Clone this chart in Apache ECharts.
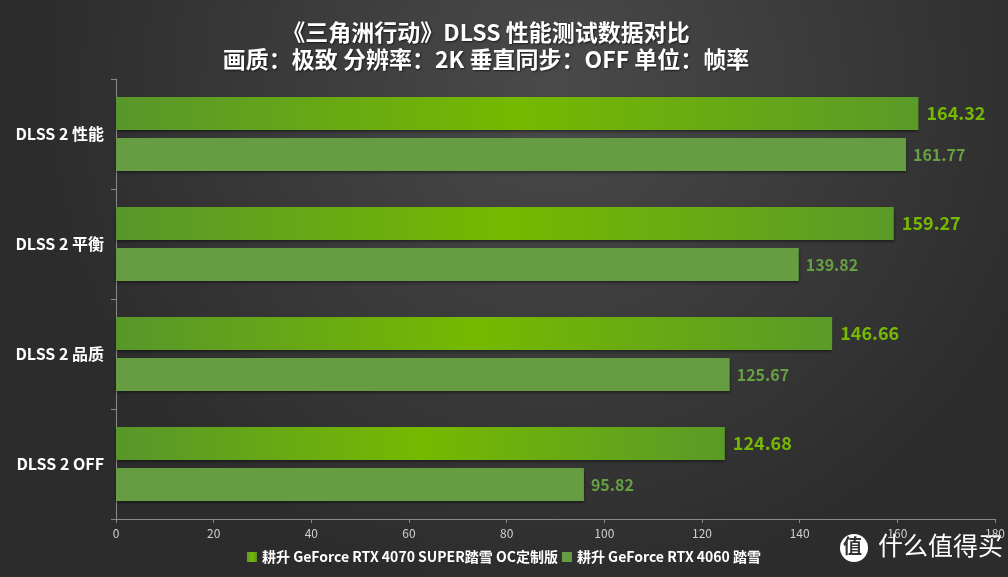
<!DOCTYPE html>
<html><head><meta charset="utf-8">
<script src="https://cdn.jsdelivr.net/npm/echarts@6/dist/echarts.min.js"></script>
<style>html,body{margin:0;padding:0;background:#333;}#c{width:1008px;height:577px;}</style>
</head><body><div id="c"></div>
<script>
const categories = ['DLSS 2 性能', 'DLSS 2 平衡', 'DLSS 2 品质', 'DLSS 2 OFF'];
const seriesNames = ['耕升 GeForce RTX 4070 SUPER踏雪 OC定制版', '耕升 GeForce RTX 4060 踏雪'];
const valuesA = [164.32, 159.27, 146.66, 124.68];
const valuesB = [161.77, 139.82, 125.67, 95.82];
const xTicks = { min: 0, max: 180, interval: 20 };
const titleLines = ['《三角洲行动》DLSS 性能测试数据对比', '画质：极致 分辨率：2K 垂直同步：OFF 单位：帧率'];

const FF = '"Noto Sans CJK SC", "Noto Sans", sans-serif';
const chart = echarts.init(document.getElementById('c'));
const gradA = new echarts.graphic.LinearGradient(0, 0, 1, 0, [
  { offset: 0, color: '#58962b' },
  { offset: 0.5, color: '#76b900' },
  { offset: 1, color: '#5a9a28' }
]);
chart.setOption({
  backgroundColor: new echarts.graphic.RadialGradient(0.55, 0.15, 0.9, [
    { offset: 0, color: '#4a4a4a' },
    { offset: 1, color: '#2c2c2c' }
  ]),
  title: {
    text: titleLines.join('\n'),
    left: 481, top: 14, textAlign: 'center',
    textStyle: { color: '#ffffff', fontSize: 23, fontWeight: 'bold', fontFamily: FF, lineHeight: 27,
      textShadowColor: 'rgba(0,0,0,0.6)', textShadowBlur: 2, textShadowOffsetX: 1, textShadowOffsetY: 1 }
  },
  legend: {
    bottom: 8, left: 'center', itemWidth: 10, itemHeight: 10, itemGap: 4, icon: 'rect',
    textStyle: { color: '#ffffff', fontSize: 14, fontWeight: 'bold', fontFamily: FF }
  },
  grid: { left: 116, right: 13, top: 79, bottom: 58 },
  xAxis: {
    type: 'value', min: xTicks.min, max: xTicks.max, interval: xTicks.interval,
    axisLine: { show: true, lineStyle: { color: '#8a8a8a' } },
    axisTick: { show: true, length: 4, lineStyle: { color: '#8a8a8a' } },
    axisLabel: { color: '#cfcfcf', fontSize: 12, fontFamily: FF, margin: 8 },
    splitLine: { show: false }
  },
  yAxis: {
    type: 'category', data: categories, inverse: true,
    axisLine: { show: true, lineStyle: { color: '#8a8a8a' } },
    axisTick: { show: true, length: 5, lineStyle: { color: '#8a8a8a' } },
    axisLabel: { color: '#ffffff', fontSize: 16, fontWeight: 'bold', fontFamily: FF, margin: 12 }
  },
  series: [
    {
      name: seriesNames[0], type: 'bar', data: valuesA, barWidth: 33, barGap: '24%',
      itemStyle: { color: gradA, shadowColor: 'rgba(0,0,0,0.5)', shadowBlur: 3, shadowOffsetY: 2 },
      label: { show: true, position: 'right', distance: 8, color: '#76b900', fontSize: 18, fontWeight: 'bold', fontFamily: FF,
        formatter: p => p.value.toFixed(2) }
    },
    {
      name: seriesNames[1], type: 'bar', data: valuesB, barWidth: 33,
      itemStyle: { color: '#669c42', shadowColor: 'rgba(0,0,0,0.5)', shadowBlur: 3, shadowOffsetY: 2 },
      label: { show: true, position: 'right', distance: 7, color: '#67a043', fontSize: 16, fontWeight: 'bold', fontFamily: FF,
        formatter: p => p.value.toFixed(2) }
    }
  ],
  color: ['#76b900', '#669c42'],
  graphic: [
    { type: 'circle', shape: { cx: 854, cy: 548, r: 14 }, style: { fill: '#ffffff' } },
    { type: 'text', left: 843, top: 536, style: { text: '值', fill: '#333', font: 'bold 19px ' + FF } },
    { type: 'text', left: 878, top: 533, style: { text: '什么值得买', fill: '#ffffff', font: '25px ' + FF } }
  ]
});
</script></body></html>
